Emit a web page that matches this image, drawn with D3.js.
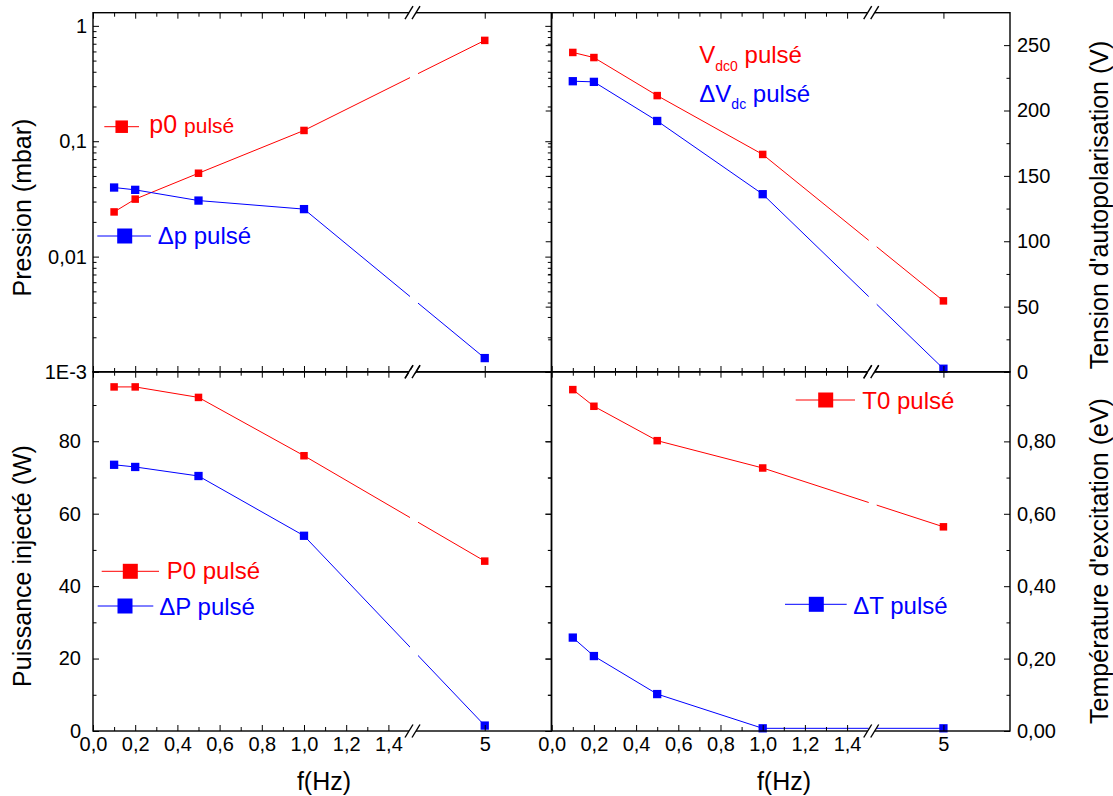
<!DOCTYPE html>
<html><head><meta charset="utf-8">
<script src="https://cdn.jsdelivr.net/npm/d3@7"></script>
<style>body{margin:0;background:#fff}svg{display:block}</style>
</head><body><svg id="c" width="1113" height="796"></svg>
<script>
// ---------- data ----------
const freq = [0.1, 0.2, 0.5, 1.0, 5];
const xLowTicks = [0, 0.2, 0.4, 0.6, 0.8, 1.0, 1.2, 1.4];
const xLowLabels = ["0,0", "0,2", "0,4", "0,6", "0,8", "1,0", "1,2", "1,4"];
const xLowMinor = [0.1, 0.3, 0.5, 0.7, 0.9, 1.1, 1.3];
const xHighTicks = [5];
const xHighLabels = ["5"];

const p0 = [0.0244, 0.0315, 0.0528, 0.124, 0.748];
const dp = [0.0397, 0.0379, 0.0306, 0.0258, 0.00132];
const pressTicks = [1, 0.1, 0.01, 0.001];
const pressLabels = ["1", "0,1", "0,01", "1E-3"];

const vdc0 = [244.4, 240.5, 211.4, 166.4, 54.4];
const dvdc = [222.4, 221.9, 192.0, 136.0, 2.5];
const voltTicks = [0, 50, 100, 150, 200, 250];
const voltMinor = [25, 75, 125, 175, 225];
const voltLabels = ["0", "50", "100", "150", "200", "250"];

const P0 = [95.0, 95.0, 92.1, 76.0, 46.9];
const dP = [73.5, 72.9, 70.4, 53.9, 1.5];
const powTicks = [0, 20, 40, 60, 80];
const powMinor = [10, 30, 50, 70, 90];
const powLabels = ["0", "20", "40", "60", "80"];

const T0 = [0.943, 0.897, 0.802, 0.7265, 0.564];
const dT = [0.258, 0.207, 0.102, 0.0074, 0.0074];
const tempTicks = [0, 0.2, 0.4, 0.6, 0.8];
const tempMinor = [0.1, 0.3, 0.5, 0.7, 0.9];
const tempLabels = ["0,00", "0,20", "0,40", "0,60", "0,80"];

// ---------- layout ----------
const FONT = 'Arial, "Liberation Sans", sans-serif';
const RED = "#ff0000", BLUE = "#0000ff";
const COLX = [93, 551.7], W = 458.3;
const ROWY = [12.7, 371.7], H = 359.3;
const SEG = 320;

const svg = d3.select("#c");

function makeX(left) {
  const s1 = d3.scaleLinear().domain([0, 1.5166]).range([left, left + SEG]);
  const s2 = d3.scaleLinear().domain([4.66, 5.3155]).range([left + SEG, left + W]);
  const f = v => (v < 3 ? s1(v) : s2(v));
  f.s1 = s1; f.s2 = s2; f.bx = left + SEG;
  return f;
}

const panels = [
  { col: 0, row: 0, y: d3.scaleLog().domain([0.001, 1.3]).range([ROWY[0] + H, ROWY[0]]),
    log: true, ticks: pressTicks, labels: pressLabels, side: "left", pad: 6,
    series: [{ v: p0, c: RED, s: 7.5 }, { v: dp, c: BLUE, s: 8.3 }] },
  { col: 1, row: 0, y: d3.scaleLinear().domain([0, 274.8]).range([ROWY[0] + H, ROWY[0]]),
    ticks: voltTicks, minor: voltMinor, labels: voltLabels, side: "right", pad: 7,
    series: [{ v: vdc0, c: RED, s: 7.5 }, { v: dvdc, c: BLUE, s: 8.3 }] },
  { col: 0, row: 1, y: d3.scaleLinear().domain([0, 99.2]).range([ROWY[1] + H, ROWY[1]]),
    ticks: powTicks, minor: powMinor, labels: powLabels, side: "left", pad: 12,
    series: [{ v: P0, c: RED, s: 7.5 }, { v: dP, c: BLUE, s: 8.3 }] },
  { col: 1, row: 1, y: d3.scaleLinear().domain([0, 0.9925]).range([ROWY[1] + H, ROWY[1]]),
    ticks: tempTicks, minor: tempMinor, labels: tempLabels, side: "right", pad: 7,
    series: [{ v: T0, c: RED, s: 7.5 }, { v: dT, c: BLUE, s: 8.3 }] }
];

function styleAxis(g, size) {
  g.attr("font-family", FONT).attr("font-size", size || 20);
  g.select(".domain").remove();
  g.selectAll(".tick line").attr("stroke", "#000").attr("stroke-width", 1);
  g.selectAll(".tick text").attr("fill", "#000");
}

panels.forEach(p => {
  const left = COLX[p.col], top = ROWY[p.row], bottom = top + H, right = left + W;
  const x = makeX(left);
  const g = svg.append("g");

  // series lines
  const line = d3.line().x((d, i) => x(freq[i])).y(d => p.y(d));
  p.series.forEach(s => {
    g.append("path").datum(s.v).attr("d", line)
      .attr("fill", "none").attr("stroke", s.c).attr("stroke-width", 1);
  });
  // gap in lines at the axis break
  g.append("rect").attr("x", x.bx - 3).attr("y", top + 2).attr("width", 8)
    .attr("height", H - 3.5).attr("fill", "#fff");
  // markers
  p.series.forEach(s => {
    g.selectAll(null).data(s.v).enter().append("rect")
      .attr("x", (d, i) => x(freq[i]) - s.s / 2).attr("y", d => p.y(d) - s.s / 2)
      .attr("width", s.s).attr("height", s.s).attr("fill", s.c);
  });

  // y axes
  const yTicksMinor = p.log ? p.y.ticks().filter(v => !pressTicks.includes(v)) : p.minor;
  const labelAxis = p.side === "left" ? d3.axisLeft(p.y) : d3.axisRight(p.y);
  styleAxis(g.append("g").attr("transform", `translate(${p.side === "left" ? left : right},0)`)
    .call(labelAxis.tickValues(p.ticks).tickFormat((d, i) => p.labels[i]).tickSize(-6).tickPadding(p.pad)));
  const mAxis = p.side === "left" ? d3.axisLeft(p.y) : d3.axisRight(p.y);
  styleAxis(g.append("g").attr("transform", `translate(${p.side === "left" ? left : right},0)`)
    .call(mAxis.tickValues(yTicksMinor).tickFormat("").tickSize(-3.5)));
  // mirror ticks on the shared middle edge (pointing left)
  const mx = p.col === 0 ? right : left;
  styleAxis(g.append("g").attr("transform", `translate(${mx},0)`)
    .call(d3.axisLeft(p.y).tickValues(p.ticks).tickFormat("").tickSize(6)));
  styleAxis(g.append("g").attr("transform", `translate(${mx},0)`)
    .call(d3.axisLeft(p.y).tickValues(yTicksMinor).tickFormat("").tickSize(3.5)));

  // x axes (labels only on the lower row)
  const withLabels = p.row === 1;
  [[x.s1, xLowTicks, xLowLabels, xLowMinor], [x.s2, xHighTicks, xHighLabels, []]].forEach(([sc, tv, tl, mn]) => {
    styleAxis(g.append("g").attr("transform", `translate(0,${bottom})`)
      .call(d3.axisBottom(sc).tickValues(tv).tickFormat(withLabels ? (d, i) => tl[i] : "").tickSize(-6).tickPadding(6)));
    styleAxis(g.append("g").attr("transform", `translate(0,${bottom})`)
      .call(d3.axisBottom(sc).tickValues(mn).tickFormat("").tickSize(-4)));
    styleAxis(g.append("g").attr("transform", `translate(0,${top})`)
      .call(d3.axisTop(sc).tickValues(tv).tickFormat("").tickSize(-6)));
    styleAxis(g.append("g").attr("transform", `translate(0,${top})`)
      .call(d3.axisTop(sc).tickValues(mn).tickFormat("").tickSize(-4)));
  });

  // frame
  g.append("rect").attr("x", left).attr("y", top).attr("width", W).attr("height", H)
    .attr("fill", "none").attr("stroke", "#000").attr("stroke-width", 1.4);

  // break marks
  [top, bottom].forEach(yy => {
    g.append("rect").attr("x", x.bx - 4).attr("y", yy - 1.5).attr("width", 7).attr("height", 3).attr("fill", "#fff");
    [[-8, 0], [-1, 7]].forEach(([a, b]) => {
      g.append("line").attr("x1", x.bx + a).attr("y1", yy + 6.5).attr("x2", x.bx + b).attr("y2", yy - 6.5)
        .attr("stroke", "#000").attr("stroke-width", 1.4);
    });
  });
});

// ---------- axis titles ----------
function vtitle(txt, x, y) {
  svg.append("text").attr("transform", `translate(${x},${y}) rotate(-90)`)
    .attr("text-anchor", "middle").attr("font-family", FONT).attr("font-size", 25).attr("fill", "#000").text(txt);
}
vtitle("Pression (mbar)", 31, 207.5);
vtitle("Puissance injecté (W)", 31, 566);
vtitle("Tension d'autopolarisation (V)", 1108, 205);
vtitle("Température d'excitation (eV)", 1108, 561);
[324, 784].forEach(cx => {
  svg.append("text").attr("x", cx).attr("y", 790).attr("text-anchor", "middle")
    .attr("font-family", FONT).attr("font-size", 25).attr("fill", "#000").text("f(Hz)");
});

// ---------- legends ----------
function legSym(x1, x2, y, cx, size, color) {
  svg.append("line").attr("x1", x1).attr("x2", x2).attr("y1", y).attr("y2", y)
    .attr("stroke", color).attr("stroke-width", 1);
  svg.append("rect").attr("x", cx - size / 2).attr("y", y - size / 2)
    .attr("width", size).attr("height", size).attr("fill", color);
}
function legText(x, y, color, parts) {
  const t = svg.append("text").attr("x", x).attr("y", y).attr("font-family", FONT).attr("fill", color);
  parts.forEach(([s, fs, dy]) => {
    t.append("tspan").attr("font-size", fs).attr("dy", dy || 0).text(s);
  });
}
legSym(104.3, 139, 126.7, 121.7, 12.5, RED);
legText(149.3, 133.3, RED, [["p0 ", 25], ["pulsé", 21]]);
legSym(97.3, 151, 236, 124.7, 15, BLUE);
legText(157.7, 244, BLUE, [["Δp pulsé", 24]]);

legText(699.3, 63.3, RED, [["V", 24], ["dc0", 14, 7.5], [" pulsé", 24, -7.5]]);
legText(699.3, 101.7, BLUE, [["ΔV", 24], ["dc", 14, 7.5], [" pulsé", 24, -7.5]]);

legSym(101.7, 159, 571.3, 130.3, 15, RED);
legText(166.7, 579.3, RED, [["P0 pulsé", 24]]);
legSym(97.7, 153.3, 606, 125, 15, BLUE);
legText(159.3, 615, BLUE, [["ΔP pulsé", 24]]);

legSym(795.7, 855, 400, 825.7, 15, RED);
legText(862.3, 409, RED, [["T0 pulsé", 24]]);
legSym(785, 846.7, 604.3, 816.3, 15, BLUE);
legText(853.3, 614.3, BLUE, [["ΔT pulsé", 24]]);
</script></body></html>
